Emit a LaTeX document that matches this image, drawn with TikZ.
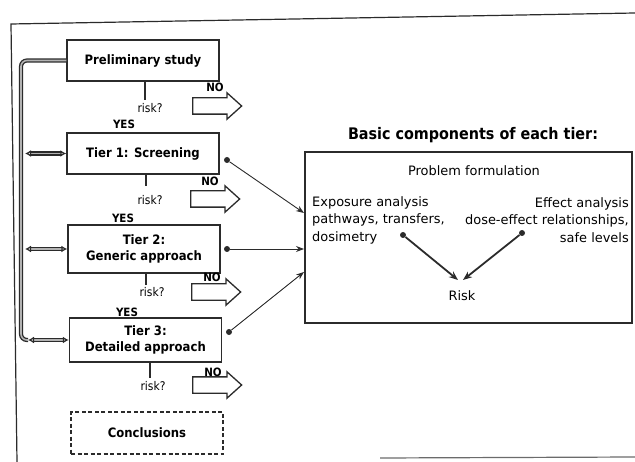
\documentclass[tikz,border=0pt]{standalone}
\usepackage{fontspec}
\setmainfont{DejaVu Sans}
\newfontfamily\condf{DejaVu Sans Condensed}
\usetikzlibrary{arrows.meta,shapes.arrows}
\definecolor{ink}{HTML}{2B2B2B}
\begin{document}
\begin{tikzpicture}[x=1bp,y=-1bp,
  box/.style={draw=ink,line width=1.4bp,fill=white,minimum width=152bp,inner sep=0pt,align=center,font=\condf\bfseries\fontsize{13}{16.5}\selectfont},
  stem/.style={draw=ink,line width=2.6bp},
  lbl/.style={inner sep=0pt,font=\condf\fontsize{12}{14}\selectfont},
  yn/.style={inner sep=0pt,font=\condf\bfseries\fontsize{11.5}{13}\selectfont},
  noarrow/.style={single arrow,draw=ink,line width=1.3bp,fill=white,minimum height=49bp,inner xsep=0pt,inner ysep=7.5bp,single arrow head extend=5bp,single arrow tip angle=84,anchor=tail},
  bus/.style={draw=ink,double=gray!60,line width=1.3bp,double distance=1.6bp},
  link/.style={bus,{Latex[open,length=6bp,width=7bp]}-{Latex[open,length=6bp,width=7bp]}},
  feed/.style={draw=ink,line width=0.9bp,-{Stealth[length=8bp,width=6bp]}},
  riskarr/.style={draw=ink,line width=1.8bp,-{Stealth[length=9bp,width=7bp]}},
  dot/.style={circle,fill=ink,inner sep=0pt,minimum size=6bp},
  rtext/.style={inner sep=0pt,font=\fontsize{13}{17.5}\selectfont},
]
\useasboundingbox (0,0) rectangle (635,462);
% frame
\draw[ink,line width=1.2bp] (17,462) -- (11,24) -- (635,13);
\draw[ink!70,line width=1.2bp] (380,458) -- (635,457);

% tier boxes
\node[box,minimum height=41bp] (prelim) at (143,60.5) {Preliminary study};
\node[box,minimum height=41bp] (t1) at (143,153.5) {Tier 1: Screening};
\node[box,minimum height=48bp] (t2) at (144,249) {Tier 2:\\Generic approach};
\node[box,minimum height=44bp] (t3) at (145.5,340) {Tier 3:\\Detailed approach};
\node[box,dashed,dash pattern=on 4bp off 2.5bp,minimum height=42bp] (concl) at (147,433) {Conclusions};

% stems
\coordinate (s0) at (145,100);
\coordinate (s1) at (146,186);
\coordinate (s2) at (146,285);
\coordinate (s3) at (150,378);
\draw[stem] (prelim.south -| s0) -- (s0);
\draw[stem] (t1.south -| s1) -- (s1);
\draw[stem] (t2.south -| s2) -- (s2);
\draw[stem] (t3.south -| s3) -- (s3);

% risk labels
\node[lbl] (r0) at (150,108) {risk?};
\node[lbl] (r1) at (150,200) {risk?};
\node[lbl] (r2) at (152,292) {risk?};
\node[lbl] (r3) at (153,386) {risk?};

% NO labels and arrows
\node[yn] (n0) at (215,87) {NO};
\node[yn] (n1) at (210,181) {NO};
\node[yn] (n2) at (212,277) {NO};
\node[yn] (n3) at (213,372) {NO};
\node[noarrow] (a0) at (192,106) {};
\node[noarrow] (a1) at (190,199) {};
\node[noarrow] (a2) at (191,292) {};
\node[noarrow] (a3) at (192,385) {};

% YES labels
\node[yn] (y0) at (124,124) {YES};
\node[yn] (y1) at (123,218) {YES};
\node[yn] (y2) at (127,312) {YES};

% bus
\coordinate (bb) at (21,340);
\coordinate (b3) at (28,340);
\coordinate (b1) at (25,153.5);
\coordinate (b2) at (25,249);
\draw[bus,rounded corners=6bp] (prelim.west) -| (bb) -- (b3);
\draw[link] (b1) -- (t1.west);
\draw[link] (b2) -- (t2.west);
\draw[link] (b3) -- (t3.west);

% right part
\node[inner sep=0pt,font=\condf\bfseries\fontsize{16}{18}\selectfont] (title) at (473,135) {Basic components of each tier:};
\node[draw=ink,line width=1.2bp,minimum width=327bp,minimum height=171bp,inner sep=0pt] (big) at (468.5,237.5) {};
\node[rtext] (prob) at (474,171) {Problem formulation};
\node[rtext,align=left,anchor=west] (expo) at (312,220) {Exposure analysis\\pathways, transfers,\\dosimetry};
\node[rtext,align=right,anchor=east] (eff) at (629,220) {Effect analysis\\dose-effect relationships,\\safe levels};
\node[dot] (dl) at (403,235) {};
\node[dot] (dr) at (522,233) {};
\node[rtext] (risk) at (462,296) {Risk};
\coordinate (rl) at (458,280);
\coordinate (rr) at (463,280);
\draw[riskarr] (dl) -- (rl);
\draw[riskarr] (dr) -- (rr);

% feeds from tiers
\node[dot] (d1) at (227,160) {};
\node[dot] (d2) at (227,249) {};
\node[dot] (d3) at (229,332) {};
\coordinate (e1) at (304,213);
\coordinate (e2) at (304,249);
\coordinate (e3) at (304,272);
\draw[feed] (d1) -- (e1);
\draw[feed] (d2) -- (e2);
\draw[feed] (d3) -- (e3);
\end{tikzpicture}
\end{document}
